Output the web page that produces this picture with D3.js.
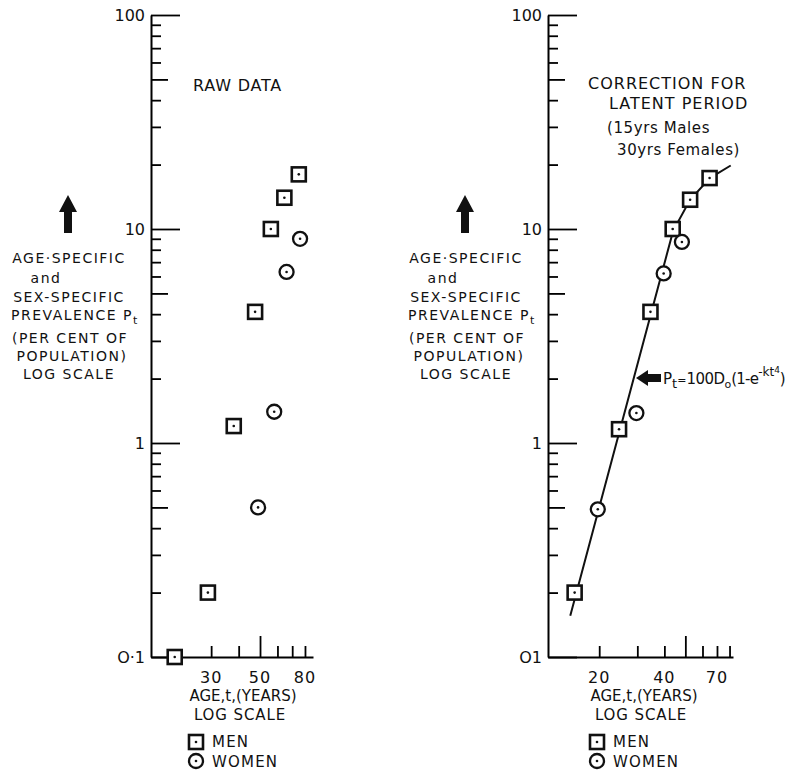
<!DOCTYPE html>
<html>
<head>
<meta charset="utf-8">
<script src="https://cdn.jsdelivr.net/npm/d3@7"></script>
<style>
  body { margin: 0; background: #fff; }
  text { font-family: "DejaVu Sans", sans-serif; fill: #111; }
</style>
</head>
<body>
<svg id="chart"></svg>
<script>
// raw data (left panel)
var rawMenAge = [20.5, 29, 38, 47.5, 56, 64.5, 75];
var rawMenP = [0.1, 0.2, 1.2, 4.1, 10, 14, 18];
var rawWomenAge = [49, 58, 66, 76];
var rawWomenP = [0.5, 1.4, 6.3, 9];

// corrected for latent period (right panel)
var corMenAge = [15.4, 24.7, 34.5, 43.7, 52.6, 64.7];
var corMenP = [0.2, 1.16, 4.1, 10, 13.7, 17.3];
var corWomenAge = [19.7, 29.7, 39.7, 48.2];
var corWomenP = [0.49, 1.38, 6.2, 8.7];

// fitted line
var fitAge = [14.7, 43.9, 52.6, 64.9, 81];
var fitP = [0.156, 9.8, 13.7, 17.3, 19.8];

// ticks and labels
var yLabelVals = [0.1, 1, 10, 100];
var yLabelsLeft = ['O·1', '1', '10', '100'];
var yLabelsRight = ['O1', '1', '10', '100'];
var xTicksLeft = [30, 40, 50, 60, 70, 80];
var xLabelsLeft = [30, 50, 80];
var xTicksRight = [20, 30, 40, 50, 60, 70, 80];
var xLabelsRight = [20, 40, 70];

(function(){

  var width = 790;
  var height = 776;

  var svg = d3.select('#chart')
              .attr('width', width)
              .attr('height', height);

  var yTitle = [
    { t: 'AGE·SPECIFIC', dx: 69, y: 263 },
    { t: 'and', dx: 46, y: 283 },
    { t: 'SEX-SPECIFIC', dx: 69, y: 302 },
    { t: 'PREVALENCE', dx: 62, y: 320, sub: true },
    { t: '(PER CENT OF', dx: 70, y: 343 },
    { t: 'POPULATION)', dx: 72, y: 361 },
    { t: 'LOG SCALE', dx: 69, y: 379 }
  ];

  drawPanel({
    off: 0,
    axisX: 151,
    xDomain: [16, 87], xRange: [151, 313],
    xTicks: xTicksLeft, xLabels: xLabelsLeft,
    yLabels: yLabelsLeft,
    men: zip(rawMenAge, rawMenP),
    women: zip(rawWomenAge, rawWomenP),
    axisTitleX: 243, legendX: 196
  });

  drawPanel({
    off: 397,
    axisX: 548,
    xDomain: [11.6, 83], xRange: [548, 733],
    xTicks: xTicksRight, xLabels: xLabelsRight,
    yLabels: yLabelsRight,
    men: zip(corMenAge, corMenP),
    women: zip(corWomenAge, corWomenP),
    fit: zip(fitAge, fitP),
    axisTitleX: 644, legendX: 597
  });

  // panel titles
  svg.append('text').attr('x', 193).attr('y', 91)
     .attr('font-size', 16).attr('letter-spacing', 0.8).text('RAW DATA');

  var titleR = [
    { t: 'CORRECTION FOR', x: 588, y: 89 },
    { t: 'LATENT PERIOD', x: 609, y: 109 },
    { t: '(15yrs Males', x: 607, y: 133 },
    { t: '30yrs Females)', x: 617, y: 155 }
  ];
  svg.selectAll('text.titleR')
     .data(titleR)
     .enter()
     .append('text')
     .attr('class', 'titleR')
     .attr('x', function(d){ return d.x; })
     .attr('y', function(d){ return d.y; })
     .attr('font-size', function(d, i){ return i < 2 ? 16 : 15; })
     .attr('letter-spacing', function(d, i){ return i < 2 ? 1 : 0.6; })
     .text(function(d){ return d.t; });

  // formula with arrow
  svg.append('path')
     .attr('d', 'M636,378 L648,370 L648,374 L661,374 L661,382 L648,382 L648,386 Z')
     .attr('fill', '#111');
  var f = svg.append('text').attr('x', 663).attr('y', 384).attr('font-size', 15);
  f.append('tspan').text('P');
  f.append('tspan').attr('dy', 4).attr('font-size', 13).text('t');
  f.append('tspan').attr('dy', -4).attr('font-size', 11).text('=');
  f.append('tspan').attr('letter-spacing', -0.5).text('100D');
  f.append('tspan').attr('dy', 4).attr('font-size', 11).text('o');
  f.append('tspan').attr('dy', -4).attr('letter-spacing', -0.8).text('(1-e');
  f.append('tspan').attr('dy', -8).attr('font-size', 12).text('-kt');
  f.append('tspan').attr('dy', -3).attr('font-size', 9).text('4');
  f.append('tspan').attr('dy', 11).text(')');


  function drawPanel(cfg) {
    var g = svg.append('g');

    var x = d3.scaleLog().domain(cfg.xDomain).range(cfg.xRange);
    var y = d3.scaleLog().domain([0.1, 100]).range([657, 15]);

    // y axis, ticks pointing into the plot
    var yAxis = d3.axisRight(y)
                  .tickValues(y.ticks())
                  .tickFormat('')
                  .tickSize(10)
                  .tickSizeOuter(0);
    var ya = g.append('g')
              .attr('transform', 'translate(' + cfg.axisX + ',0)')
              .call(yAxis);
    ya.selectAll('.tick line').attr('x2', yTickLen).attr('stroke-width', 1.8);
    ya.select('.domain').attr('stroke-width', 2);

    g.selectAll('text.ylab')
     .data(yLabelVals)
     .enter()
     .append('text')
     .attr('class', 'ylab')
     .attr('x', cfg.axisX - 6)
     .attr('y', function(d){ return y(d) + 6; })
     .attr('text-anchor', 'end')
     .attr('font-size', 16)
     .text(function(d, i){ return cfg.yLabels[i]; });

    // x axis, ticks pointing up
    var xAxis = d3.axisTop(x)
                  .tickValues(cfg.xTicks)
                  .tickFormat('')
                  .tickSize(11)
                  .tickSizeOuter(0);
    var xa = g.append('g')
              .attr('transform', 'translate(0,657)')
              .call(xAxis);
    xa.selectAll('.tick line')
      .attr('y2', function(d){ return d === 50 ? -21 : -11; })
      .attr('stroke-width', 1.8);
    xa.select('.domain').attr('stroke-width', 2);

    g.selectAll('text.xlab')
     .data(cfg.xLabels)
     .enter()
     .append('text')
     .attr('class', 'xlab')
     .attr('x', function(d){ return x(d); })
     .attr('y', 683)
     .attr('text-anchor', 'middle')
     .attr('font-size', 16)
     .attr('letter-spacing', 1)
     .text(function(d){ return d; });

    g.append('text').attr('x', cfg.axisTitleX).attr('y', 701)
     .attr('text-anchor', 'middle').attr('font-size', 15)
     .text('AGE,t,(YEARS)');
    g.append('text').attr('x', cfg.axisTitleX - 3).attr('y', 720)
     .attr('text-anchor', 'middle').attr('font-size', 15).attr('letter-spacing', 0.9)
     .text('LOG SCALE');

    // y title with arrow
    var ax = 68 + cfg.off;
    g.append('path')
     .attr('d', 'M' + ax + ',195 L' + (ax + 9) + ',212 L' + (ax + 4) + ',212 L' + (ax + 4) + ',233 L' +
                (ax - 4) + ',233 L' + (ax - 4) + ',212 L' + (ax - 9) + ',212 Z')
     .attr('fill', '#111');
    yTitle.forEach(function(d){
      var t = g.append('text')
               .attr('x', d.dx + cfg.off)
               .attr('y', d.y)
               .attr('text-anchor', 'middle')
               .attr('font-size', 14)
               .attr('letter-spacing', 1.5)
               .text(d.t);
      if (d.sub) {
        t.attr('text-anchor', 'start').attr('x', 11 + cfg.off);
        t.append('tspan').text(' P');
        t.append('tspan').attr('dy', 4).attr('font-size', 11).text('t');
      }
    });

    // fitted curve
    if (cfg.fit) {
      var line = d3.line()
                   .x(function(d){ return x(d[0]); })
                   .y(function(d){ return y(d[1]); });
      g.append('path')
       .datum(cfg.fit)
       .attr('d', line)
       .attr('fill', 'none')
       .attr('stroke', '#111')
       .attr('stroke-width', 2);
    }

    // markers
    cfg.men.forEach(function(d){ square(g, x(d[0]), y(d[1])); });
    cfg.women.forEach(function(d){ circle(g, x(d[0]), y(d[1])); });

    // legend
    var lx = cfg.legendX;
    square(g, lx, 742);
    circle(g, lx, 761);
    g.append('text').attr('x', lx + 16).attr('y', 747).attr('font-size', 15)
     .attr('letter-spacing', 1.2).text('MEN');
    g.append('text').attr('x', lx + 16).attr('y', 767).attr('font-size', 15)
     .attr('letter-spacing', 1.2).text('WOMEN');
  }

  function square(g, cx, cy) {
    g.append('rect')
     .attr('x', cx - 7).attr('y', cy - 7)
     .attr('width', 14).attr('height', 14)
     .attr('fill', '#fff').attr('stroke', '#111').attr('stroke-width', 2.6);
    g.append('circle').attr('cx', cx).attr('cy', cy).attr('r', 1.3).attr('fill', '#111');
  }

  function circle(g, cx, cy) {
    g.append('circle')
     .attr('cx', cx).attr('cy', cy).attr('r', 7)
     .attr('fill', '#fff').attr('stroke', '#111').attr('stroke-width', 2.3);
    g.append('circle').attr('cx', cx).attr('cy', cy).attr('r', 1.3).attr('fill', '#111');
  }

  function yTickLen(d) {
    var m = Math.round(d / Math.pow(10, Math.floor(Math.log10(d) + 1e-9)));
    if (m === 1) return 29;
    if (m === 5) return 17;
    return 10;
  }

  function zip(a, b) {
    return a.map(function(v, i){ return [v, b[i]]; });
  }

})();
</script>
</body>
</html>
